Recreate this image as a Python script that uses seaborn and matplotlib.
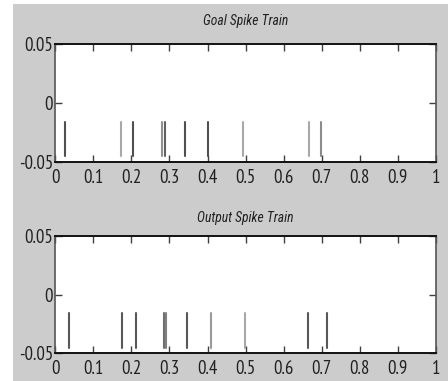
import numpy as np
import pandas as pd
import matplotlib
matplotlib.use("Agg")
import matplotlib.pyplot as plt
from matplotlib.patches import Rectangle
from matplotlib import font_manager
import seaborn as sns

# ---- data ----
goal_times = [0.026, 0.172, 0.205, 0.281, 0.288, 0.341, 0.400, 0.494, 0.667, 0.698]
output_times = [0.036, 0.176, 0.211, 0.286, 0.292, 0.345, 0.408, 0.498, 0.664, 0.715]
spike_low = -0.0455
spike_high = -0.016
titles = ["Goal Spike Train", "Output Spike Train"]
xtick_vals = [0, 0.1, 0.2, 0.3, 0.4, 0.5, 0.6, 0.7, 0.8, 0.9, 1]
xtick_labels = ["0", "0.1", "0.2", "0.3", "0.4", "0.5", "0.6", "0.7", "0.8", "0.9", "1"]
ytick_vals = [-0.05, 0, 0.05]
ytick_labels = ["-0.05", "0", "0.05"]

goal_shades = ["#505050", "#a8a8a8", "#505050", "#909090", "#606060",
               "#505050", "#505050", "#a8a8a8", "#a8a8a8", "#8c8c8c"]
output_shades = ["#585858", "#585858", "#585858", "#707070", "#808080",
                 "#585858", "#9a9a9a", "#a8a8a8", "#585858", "#585858"]

sns.set_style("ticks")
installed = {f.name for f in font_manager.fontManager.ttflist}
def pick(cands):
    return [f for f in cands if f in installed] + ["DejaVu Sans"]
TICK_FONT = pick(["PT Sans Narrow", "Pragati Narrow", "Roboto Condensed"])
TITLE_FONT = pick(["Roboto Condensed", "Open Sans Condensed", "PT Sans Narrow"])
plt.rcParams["font.family"] = TICK_FONT

fig = plt.figure(figsize=(4.48, 3.81), dpi=100, facecolor="white")
fig.patches.append(Rectangle((13 / 448, 0), 1, 1 - 4 / 381, transform=fig.transFigure,
                             facecolor="#cccccc", edgecolor="none", zorder=-10))

def spikes_frame(times):
    rows = []
    for i, t in enumerate(times):
        rows.append({"spike": i, "t": t, "v": spike_low})
        rows.append({"spike": i, "t": t, "v": spike_high})
    return pd.DataFrame(rows)

positions = [
    [55.2 / 448, 1 - 161.7 / 381, (436 - 55.2) / 448, (161.7 - 44) / 381],
    [55.2 / 448, 1 - 353.3 / 381, (436 - 55.2) / 448, (353.3 - 236) / 381],
]
title_pads = [14, 10]

for pos, times, shades, title, tpad in zip(positions, [goal_times, output_times],
                                           [goal_shades, output_shades], titles, title_pads):
    ax = fig.add_axes(pos)
    ax.set_facecolor("white")
    df = spikes_frame(times)
    sns.lineplot(data=df, x="t", y="v", hue="spike", units="spike",
                 estimator=None, sort=False, palette=shades, legend=False,
                 linewidth=1.5, ax=ax)
    ax.set_xlim(0, 1)
    ax.set_ylim(-0.05, 0.05)
    ax.set_xticks(xtick_vals)
    ax.set_xticklabels(xtick_labels)
    ax.set_yticks(ytick_vals)
    ax.set_yticklabels(ytick_labels)
    ax.set_xlabel("")
    ax.set_ylabel("")
    ax.tick_params(direction="in", top=True, right=True, length=5, width=1.0,
                   color="#404040", labelsize=13.5, labelcolor="#202020")
    ax.tick_params(axis="x", pad=5)
    ax.tick_params(axis="y", pad=1.5)
    for s in ["top", "bottom"]:
        ax.spines[s].set_color("#111111")
        ax.spines[s].set_linewidth(1.4)
    for s in ["left", "right"]:
        ax.spines[s].set_color("#555555")
        ax.spines[s].set_linewidth(1.2)
    ax.set_title(title, fontsize=9.8, style="italic", color="#202020", pad=tpad,
                 family=TITLE_FONT)

fig.savefig("out.png", dpi=100, facecolor=fig.get_facecolor())
